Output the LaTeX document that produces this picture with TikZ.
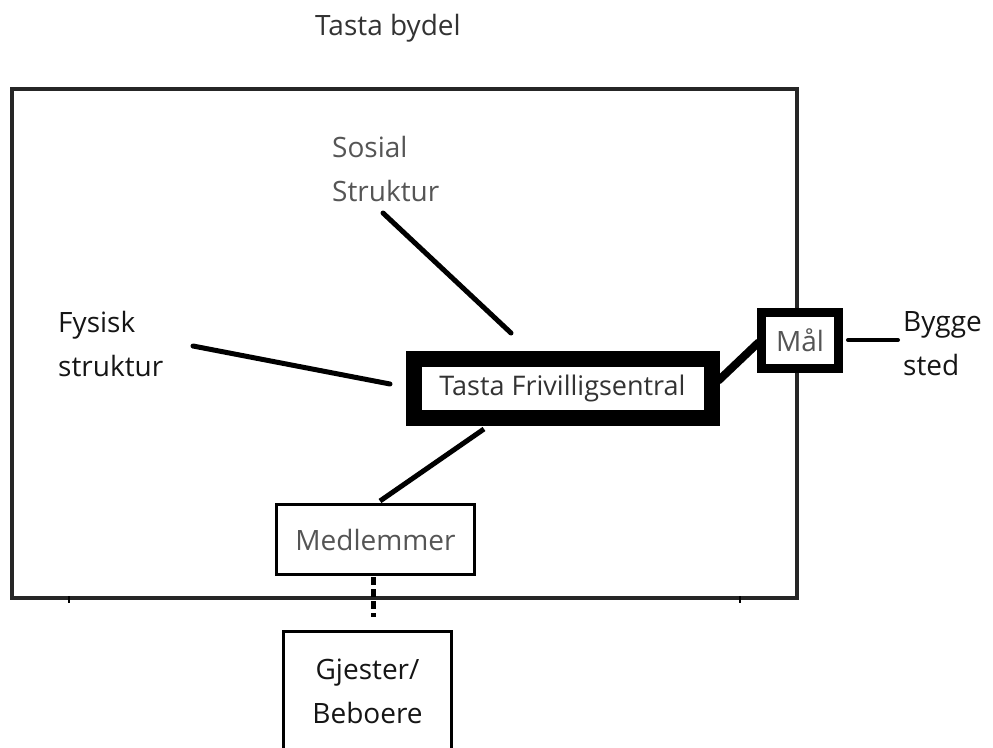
\documentclass[tikz,border=0pt]{standalone}
\usepackage{fontspec}
\setmainfont{Open Sans}
\definecolor{frame}{HTML}{262626}
\definecolor{txtdark}{HTML}{333333}
\definecolor{txtgray}{HTML}{555555}
\definecolor{txtblack}{HTML}{151515}
\begin{document}
\begin{tikzpicture}[x=1pt,y=-1pt,
  lbl/.style={inner sep=0pt, align=left, anchor=north west, font=\fontsize{28}{44}\selectfont},
  boxnode/.style={draw=black, fill=white, inner sep=0pt, font=\fontsize{28}{44}\selectfont},
  link/.style={draw=black, line cap=round},
]
\useasboundingbox (0,0) rectangle (993,747);
\clip (0,0) rectangle (993,747);
% outer frame (Tasta bydel)
\draw[frame, line width=3.5pt] (12,89) rectangle (797,598);
\coordinate (tickA1) at (69,596); \coordinate (tickA2) at (69,603);
\coordinate (tickB1) at (740,596); \coordinate (tickB2) at (740,603);
\draw[black, line width=2pt] (tickA1) -- (tickA2);
\draw[black, line width=2pt] (tickB1) -- (tickB2);

% labels
\node[lbl, text=txtdark, anchor=north west] (bydel) at (315,14) {Tasta bydel};
\node[lbl, text=txtgray] (sosial) at (332,136) {Sosial\\Struktur};
\node[lbl, text=txtblack] (fysisk) at (58,311) {Fysisk\\struktur};
\node[lbl, text=txtblack] (bygge) at (903,311) {Bygge\\sted};

% boxes
\node[boxnode, line width=16pt, minimum width=298pt, minimum height=59pt, text=txtdark,
      font=\fontsize{27}{40}\selectfont] (tf) at (562.5,388.5) {Tasta Frivilligsentral};
\node[boxnode, line width=9pt, minimum width=77.5pt, minimum height=55.5pt, text=txtgray] (maal) at (800,340.5) {Mål};
\node[boxnode, line width=3pt, minimum width=198pt, minimum height=70pt, text=txtgray] (medl) at (375.5,539.5) {Medlemmer};
\node[boxnode, line width=3pt, minimum width=168pt, minimum height=120pt, text=txtblack, align=center] (gjest) at (367.5,691.5) {Gjester/\\Beboere};

% connector ends
\coordinate (sosEnd1) at (383,213); \coordinate (sosEnd2) at (511,333);
\coordinate (fysEnd1) at (193,346); \coordinate (fysEnd2) at (390,384);
\coordinate (tfBot) at (484,429); \coordinate (medTop) at (380,501);
\coordinate (tfRight) at (718,381); \coordinate (maalLeft) at (759,342);
\coordinate (bygStart) at (848,340); \coordinate (bygEnd) at (898,340);
\coordinate (medBot) at (373,577); \coordinate (gjTop) at (373,617);

\draw[link, line width=5pt] (sosEnd1) -- (sosEnd2);
\draw[link, line width=5pt] (fysEnd1) -- (fysEnd2);
\draw[link, line width=5pt, line cap=butt] (tfBot) -- (medTop);
\draw[link, line width=8pt, line cap=butt] (tfRight) -- (maalLeft);
\draw[link, line width=4pt] (bygStart) -- (bygEnd);
\draw[black, line width=5pt, dash pattern=on 8pt off 4pt] (medBot) -- (gjTop);
\end{tikzpicture}
\end{document}
